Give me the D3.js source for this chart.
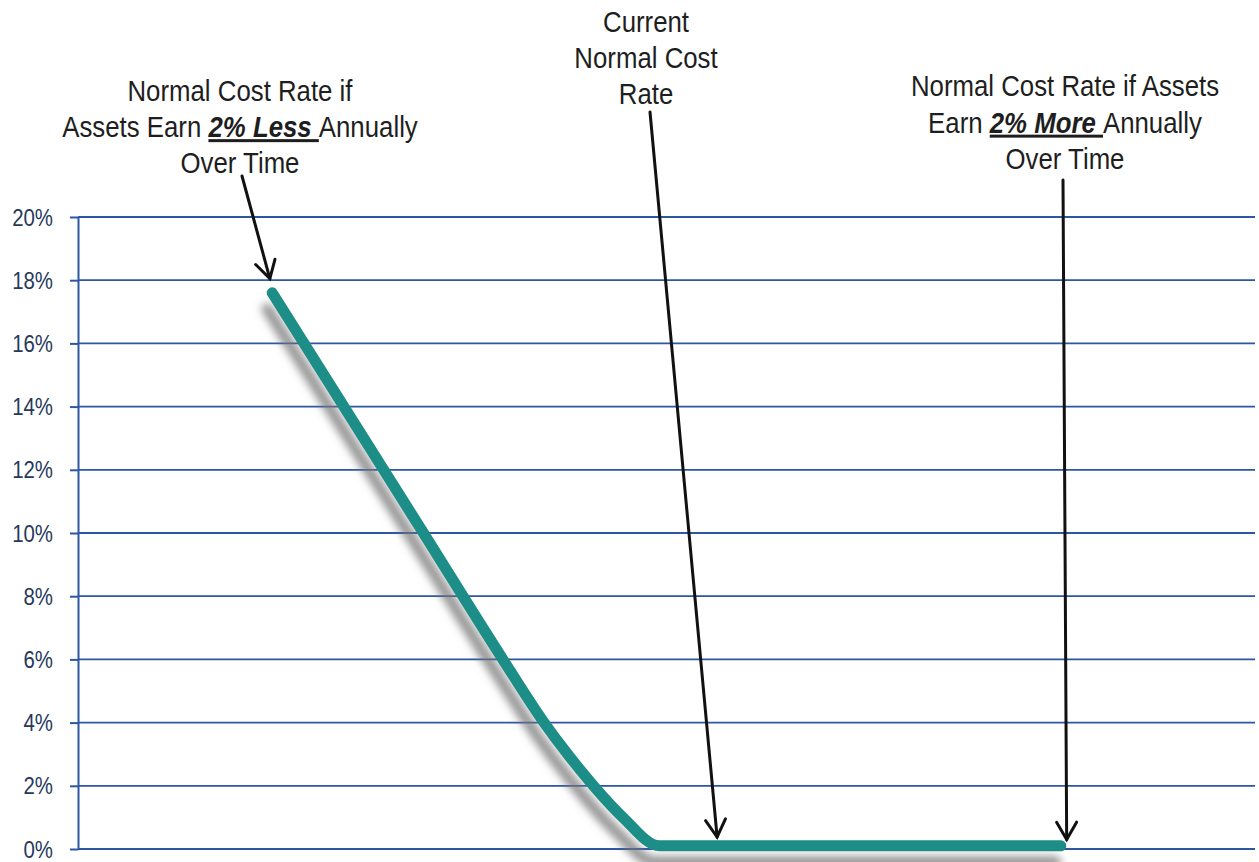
<!DOCTYPE html>
<html>
<head>
<meta charset="utf-8">
<script src="https://cdn.jsdelivr.net/npm/d3@7"></script>
<style>
  html, body { margin: 0; padding: 0; background: #fff; }
  svg { display: block; font-family: 'Liberation Sans', Arial, sans-serif; }
</style>
</head>
<body>
<svg id="chart" width="1259" height="862"></svg>
<script>
// Normal cost rate as investment return moves (x has no printed scale)
var returnPos = [16.5, 29.35, 36.1, 39.6, 41.6, 43.8, 46.3, 49.4, 83.5];
var costRate = [17.6, 10.0, 6.0, 4.0, 3.0, 2.0, 1.0, 0.1, 0.1];
var yTicks = [0, 2, 4, 6, 8, 10, 12, 14, 16, 18, 20];

// Callouts: text lines and the point (in data units) each arrow points at
var calloutLines = [
  [['Normal Cost Rate if'], ['Assets Earn ', '2% Less ', 'Annually'], ['Over Time']],
  [['Current'], ['Normal Cost'], ['Rate']],
  [['Normal Cost Rate if Assets'], ['Earn ', '2% More ', 'Annually'], ['Over Time']]
];
var calloutTipX = [16.3, 54.3, 84.0];
var calloutTipY = [18.05, 0.38, 0.3];

var svg = d3.select('#chart');
var plotLeft = 78, plotRight = 1255, plotTop = 217, plotBottom = 849;

var x = d3.scaleLinear().domain([0, 100]).range([plotLeft, plotRight]);
var y = d3.scaleLinear().domain([0, 20]).range([plotBottom, plotTop]);

var gridColor = '#2d56a3';

// Gridlines
svg.append('g').selectAll('line')
    .data(yTicks)
  .enter().append('line')
    .attr('x1', plotLeft)
    .attr('x2', plotRight)
    .attr('y1', function(d) { return y(d); })
    .attr('y2', function(d) { return y(d); })
    .style('stroke', gridColor)
    .style('stroke-width', 1.8);

// Y axis with short outside ticks
var axis = svg.append('g')
    .attr('transform', 'translate(' + plotLeft + ',0)')
    .call(d3.axisLeft(y).tickValues(yTicks).tickSize(8).tickSizeOuter(0).tickFormat(''));
axis.selectAll('path, line')
    .style('stroke', gridColor)
    .style('stroke-width', 2);

// Tick labels (narrow face, squeezed horizontally)
svg.append('g').selectAll('text')
    .data(yTicks)
  .enter().append('text')
    .attr('transform', function(d) { return 'translate(53,' + (y(d) + 8.5) + ') scale(0.85,1)'; })
    .attr('text-anchor', 'end')
    .style('font-size', '24px')
    .style('fill', '#26395a')
    .text(function(d) { return d + '%'; });

// Shadow filter for the curve
var defs = svg.append('defs');
var filter = defs.append('filter')
    .attr('id', 'shadow')
    .attr('x', '-20%').attr('y', '-20%')
    .attr('width', '140%').attr('height', '140%');
filter.append('feDropShadow')
    .attr('dx', -5)
    .attr('dy', 16)
    .attr('stdDeviation', 4.5)
    .attr('flood-color', '#757575')
    .attr('flood-opacity', 0.8);

var points = returnPos.map(function(d, i) { return [d, costRate[i]]; });
var line = d3.line()
    .x(function(d) { return x(d[0]); })
    .y(function(d) { return y(d[1]); })
    .curve(d3.curveMonotoneX);

svg.append('path')
    .datum(points)
    .attr('d', line)
    .attr('filter', 'url(#shadow)')
    .style('fill', 'none')
    .style('stroke', '#1f8d87')
    .style('stroke-width', 11)
    .style('stroke-linecap', 'round')
    .style('stroke-linejoin', 'round');

// Callout text blocks
var blockCenters = [240, 646, 1065];
var blockTops = [101, 32, 96];
var lineGap = [36, 36, 36.5];

calloutLines.forEach(function(lines, b) {
  lines.forEach(function(parts, i) {
    var t = svg.append('text')
        .attr('transform', 'translate(' + blockCenters[b] + ',' + (blockTops[b] + i * lineGap[b]) + ') scale(0.86,1)')
        .attr('text-anchor', 'middle')
        .style('font-size', '30px')
        .style('fill', '#1e1e1e');
    parts.forEach(function(p, k) {
      var ts = t.append('tspan').text(p);
      if (parts.length === 3 && k === 1) {
        ts.style('font-weight', 'bold')
          .style('font-style', 'italic')
          .style('text-decoration', 'underline');
      }
    });
  });
});

// Arrows from each block to its point
var arrowStarts = [[242, 176], [650, 112], [1063, 180]];
arrowStarts.forEach(function(s, b) {
  var tx = x(calloutTipX[b]), ty = y(calloutTipY[b]);
  var ang = Math.atan2(ty - s[1], tx - s[0]);
  var head = 20, spread = Math.PI / 6;
  var g = svg.append('g')
      .style('stroke', '#111')
      .style('stroke-width', 3)
      .style('fill', 'none')
      .style('stroke-linecap', 'round');
  g.append('line')
      .attr('x1', s[0]).attr('y1', s[1])
      .attr('x2', tx).attr('y2', ty);
  g.append('path')
      .attr('d', 'M' + (tx - head * Math.cos(ang - spread)) + ',' + (ty - head * Math.sin(ang - spread)) +
        'L' + tx + ',' + ty +
        'L' + (tx - head * Math.cos(ang + spread)) + ',' + (ty - head * Math.sin(ang + spread)))
      .style('stroke-linejoin', 'miter');
});
</script>
</body>
</html>
